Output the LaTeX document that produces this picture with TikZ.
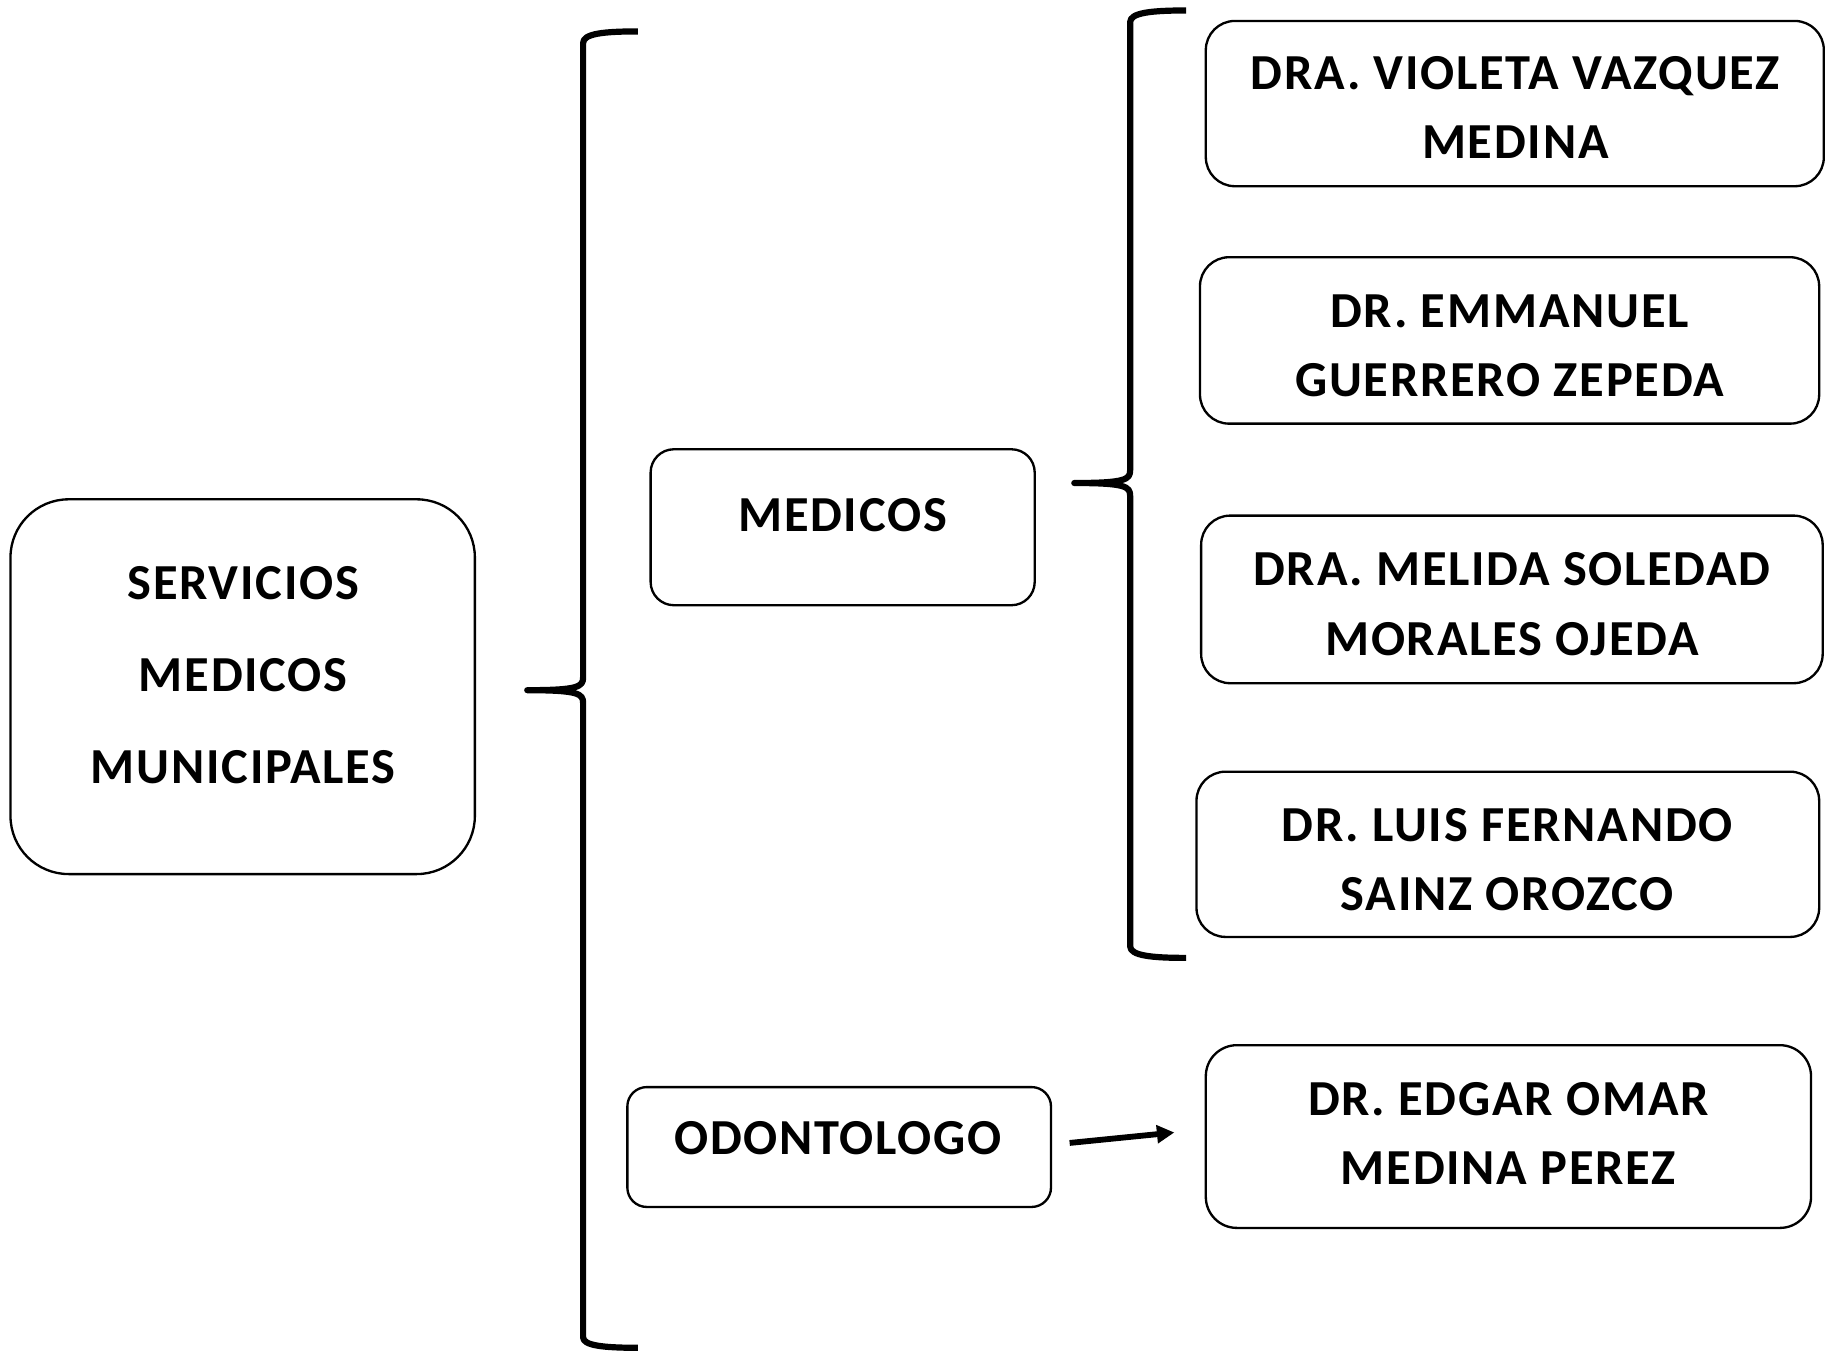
\documentclass[tikz,border=0pt]{standalone}
\usepackage{fontspec}
\setmainfont{Carlito}[LetterSpace=3.5]
\usetikzlibrary{arrows.meta}
\begin{document}
\begin{tikzpicture}[x=0.3pt,y=-0.3pt,
  box/.style={draw=black,line width=0.6pt,rounded corners=#1,inner sep=0pt},
  box/.default=7.5pt,
  txt/.style={font=\fontsize{13}{17.85}\selectfont\bfseries,align=center,inner sep=0pt,anchor=center},
  bigtxt/.style={font=\fontsize{13}{23.7}\selectfont\bfseries,align=center,inner sep=0pt,anchor=center},
  brace/.style={draw=black,line width=1.6pt,line join=round},
  arr/.style={draw=black,line width=1.5pt,-{Triangle[length=4.5pt,width=4.5pt]}}]
\useasboundingbox (0,0) rectangle (1568,1161);
% boxes
\node[box=15pt,minimum width=119.7pt,minimum height=96.6pt] (smm) at (208.5,590) {};
\node[bigtxt] (smmt) at (209,580) {SERVICIOS\\MEDICOS\\MUNICIPALES};
\node[box=6pt,minimum width=99pt,minimum height=40.2pt] (med) at (724,453) {};
\node[txt] (medt) at (724,443) {MEDICOS};
\node[box=5pt,minimum width=109.2pt,minimum height=30.9pt] (odo) at (721,985.5) {};
\node[txt] (odot) at (720,978) {ODONTOLOGO};
\node[box,minimum width=159.3pt,minimum height=42.6pt] (d1) at (1301.5,89) {};
\node[txt] (d1t) at (1302,92.5) {DRA. VIOLETA VAZQUEZ\\MEDINA};
\node[box,minimum width=159.6pt,minimum height=42.9pt] (d2) at (1297,292.5) {};
\node[txt] (d2t) at (1297,297) {DR. EMMANUEL\\GUERRERO ZEPEDA};
\node[box,minimum width=160.2pt,minimum height=43.2pt] (d3) at (1299,515) {};
\node[txt] (d3t) at (1299,519) {DRA. MELIDA SOLEDAD\\MORALES OJEDA};
\node[box,minimum width=160.5pt,minimum height=42.6pt] (d4) at (1295.5,734) {};
\node[txt] (d4t) at (1295,738.5) {DR. LUIS FERNANDO\\SAINZ OROZCO};
\node[box=8pt,minimum width=156pt,minimum height=47.1pt] (d5) at (1296,976.5) {};
\node[txt] (d5t) at (1296,974) {DR. EDGAR OMAR\\MEDINA PEREZ};
% braces
\coordinate (b1tip) at (453,593);
\coordinate (b1top) at (548,27);
\coordinate (b1bot) at (548,1158);
\draw[brace] (b1top) .. controls (518,27) and (501,29) .. (501,37) -- (501,582)
  .. controls (501,590) and (497,593) .. (b1tip)
  .. controls (497,593) and (501,596) .. (501,604) -- (501,1149)
  .. controls (501,1156) and (518,1158) .. (b1bot);
\coordinate (b2tip) at (923,415);
\coordinate (b2top) at (1019,9);
\coordinate (b2bot) at (1019,823);
\draw[brace] (b2top) .. controls (989,9) and (971,11) .. (971,19) -- (971,404)
  .. controls (971,412) and (967,415) .. (b2tip)
  .. controls (967,415) and (971,418) .. (971,426) -- (971,813)
  .. controls (971,821) and (989,823) .. (b2bot);
% arrow
\coordinate (a1) at (919,982);
\coordinate (a2) at (1009,973);
\draw[arr] (a1) -- (a2);
\end{tikzpicture}
\end{document}
